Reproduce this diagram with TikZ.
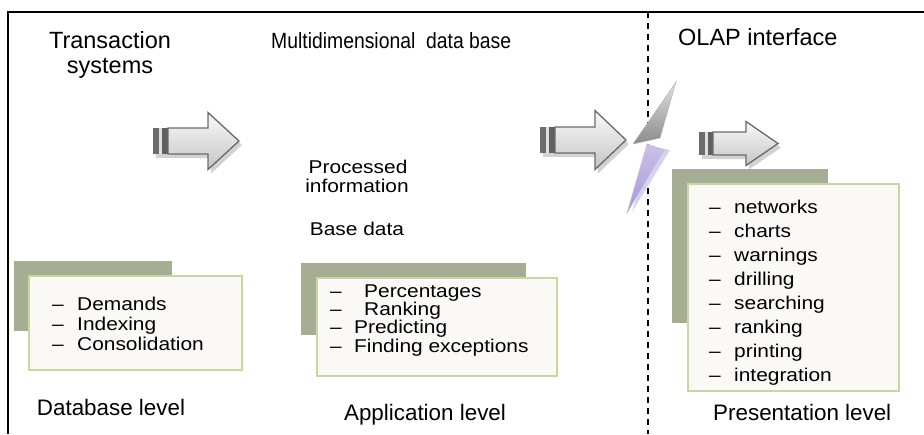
\documentclass[tikz,border=0pt]{standalone}
\usepackage{fontspec}
\usepackage{graphicx}
\setmainfont{Liberation Sans}
\newfontfamily\bodyfont{Liberation Sans}[FakeStretch=1.13]
\newfontfamily\narrowfont{Liberation Sans}[FakeStretch=0.88]
\definecolor{backgreen}{HTML}{A5AE93}
\definecolor{cardfill}{HTML}{FAF9F5}
\definecolor{cardedge}{HTML}{C5D99E}
\definecolor{arrowedge}{HTML}{6A6A6A}
\definecolor{boltgray}{HTML}{8C8C8C}
\definecolor{boltpurple}{HTML}{A898D8}

\tikzset{
  title/.style={inner sep=0pt, font=\fontsize{23.5}{28}\selectfont},
  levellabel/.style={inner sep=0pt, font=\fontsize{22.4}{26}\selectfont},
  note/.style={inner sep=0pt, font=\bodyfont\fontsize{18.5}{22}\selectfont},
  item/.style={inner sep=0pt, anchor=base west, font=\bodyfont\fontsize{18.5}{22}\selectfont},
  backcard/.style={fill=backgreen},
  frontcard/.style={fill=cardfill, draw=cardedge, line width=2.5pt},
  frame/.style={line width=1.6pt},
  divider/.style={line width=1.8pt, dash pattern=on 6pt off 5pt},
}

% block arrow: #1 left end, #2 shaft start, #3 head base, #4 tip,
% #5 centre y, #6 shaft half height, #7 head half height
\newcommand\blockarrow[7]{%
  % soft shadow
  \fill[gray!35] ({#1+3},{#5-#6+4}) rectangle ({#2+3},{#5+#6+4});
  \fill[gray!35] ({#2+3},{#5-#6+4}) -- ({#3+3},{#5-#6+4}) -- ({#3+3},{#5-#7+4})
     -- ({#4+3},{#5+4}) -- ({#3+3},{#5+#7+4}) -- ({#3+3},{#5+#6+4})
     -- ({#2+3},{#5+#6+4}) -- cycle;
  % tail stripes
  \fill[gray!85!black] (#1,{#5-#6}) rectangle ({#1+6},{#5+#6});
  \fill[gray!25] ({#1+6},{#5-#6}) rectangle ({#1+9},{#5+#6});
  \fill[gray!75!black] ({#1+9},{#5-#6}) rectangle (#2,{#5+#6});
  % body
  \shade[top color=gray!5, bottom color=gray!45, draw=arrowedge, line width=1.3pt,
         line join=miter]
     (#2,{#5-#6}) -- (#3,{#5-#6}) -- (#3,{#5-#7}) -- (#4,#5)
     -- (#3,{#5+#7}) -- (#3,{#5+#6}) -- (#2,{#5+#6}) -- cycle;
}

\begin{document}
\begin{tikzpicture}[x=1pt,y=-1pt]
\useasboundingbox (0,0) rectangle (924,434);

% outer frame (top and left edges) and the OLAP divider
\draw[frame] (924,12) -- (8,12) -- (8,434);
\draw[divider] (648,12) -- (648,434);

% column titles
\node[title, anchor=base] (ts1) at (110,48) {Transaction};
\node[title, anchor=base] (ts2) at (110,73) {systems};
\node[title, anchor=base west, font=\narrowfont\fontsize{22}{26}\selectfont] (mdb) at (271,48) {Multidimensional\ \ data base};
\node[title, anchor=base west] (olap) at (678,45) {OLAP interface};

% flow arrows
\blockarrow{153}{168}{208}{239}{141}{13}{28.5}
\blockarrow{540}{555}{595}{626}{140}{13}{29.5}
\blockarrow{699}{713}{746}{778}{143.5}{11.5}{22}

% lightning bolt across the divider
\shade[top color=gray!25, bottom color=boltgray, draw=gray!60, line width=0.4pt]
  (676,82) -- (633,144) -- (660,138) -- cycle;
\fill[boltpurple!45] (652,146) -- (670,150) -- (632,212) -- cycle;
\shade[top color=boltpurple!60, bottom color=boltpurple, draw=boltpurple!70, line width=0.4pt]
  (647,144) -- (664,150) -- (627,213) -- cycle;

% middle column notes
\node[note, anchor=base] (proc1) at (358,173) {Processed};
\node[note, anchor=base] (proc2) at (357,192) {information};
\node[note, anchor=base] (based) at (357,235) {Base data};

% database level card
\fill[backcard] (14,261) rectangle (172,331);
\draw[frontcard] (29,276) rectangle (242,370);
\foreach \t [count=\i] in {Demands,Indexing,Consolidation}{
  \node[item] (dbd\i) at (52,{310+20*(\i-1)}) {–};
  \node[item] (db\i) at (77,{310+20*(\i-1)}) {\t};
}

% application level card
\fill[backcard] (301,263) rectangle (526,335);
\draw[frontcard] (317,278) rectangle (557,376);
\node[item] (apd1) at (330,297) {–};
\node[item] (ap1) at (364,297) {Percentages};
\node[item] (apd2) at (330,315) {–};
\node[item] (ap2) at (364,315) {Ranking};
\node[item] (apd3) at (330,333.5) {–};
\node[item] (ap3) at (354,333.5) {Predicting};
\node[item] (apd4) at (330,352) {–};
\node[item] (ap4) at (354,352) {Finding exceptions};

% presentation level card
\fill[backcard] (672,169) rectangle (828,323);
\draw[frontcard] (688,184) rectangle (899,391);
\foreach \t [count=\i] in {networks,charts,warnings,drilling,searching,ranking,printing,integration}{
  \node[item] (prd\i) at (709,{213.3+24*(\i-1)}) {–};
  \node[item] (pr\i) at (734,{213.3+24*(\i-1)}) {\t};
}

% level captions
\node[levellabel, anchor=base] (dbl) at (111,415) {Database level};
\node[levellabel, anchor=base] (apl) at (425,420) {Application level};
\node[levellabel, anchor=base west] (prl) at (713,420) {Presentation level};
\end{tikzpicture}
\end{document}
